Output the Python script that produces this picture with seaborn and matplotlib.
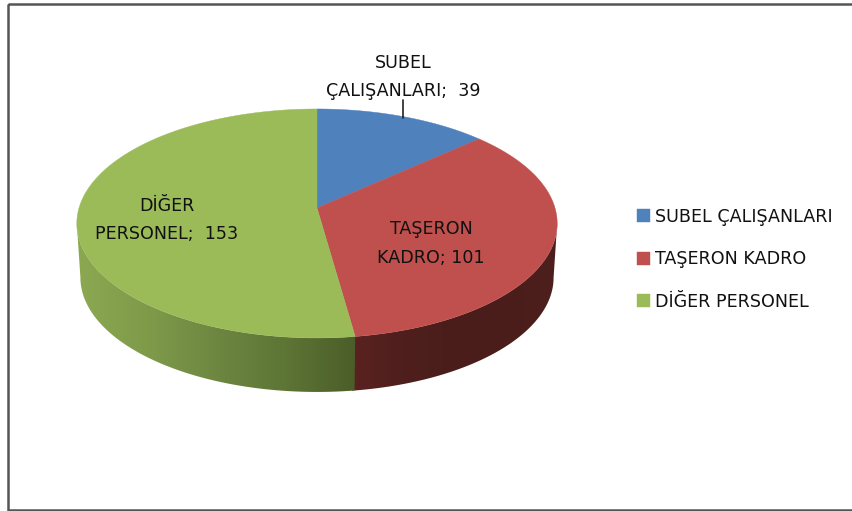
import numpy as np
import matplotlib
matplotlib.use("Agg")
import matplotlib.pyplot as plt
from matplotlib.colors import LinearSegmentedColormap
from matplotlib.patches import Polygon, Rectangle
import seaborn as sns

# chart data
categories = ["SUBEL ÇALIŞANLARI", "TAŞERON KADRO", "DİĞER PERSONEL"]
values = [39, 101, 153]
data_labels = ["SUBEL\nÇALIŞANLARI;  39", "TAŞERON\nKADRO; 101", "DİĞER\nPERSONEL;  153"]
colors = ["#4f81bd", "#c0504d", "#9bbb59"]

# look of the tilted pie, in pixels
CX, CY = 317, 208
RX, RY = 238, 112.4
TILT = 0.135
DEPTH = 54
BASE_SHRINK = 0.985
label_pos = [(403, 77), (431, 243.5), (167, 220)]
green_wall = ["#8ba851", "#7f9b4a", "#6d8741", "#5d7535", "#4b5d29"]
red_wall = ["#5a2220", "#4e1f1d", "#4a1d1b", "#4a1d1b", "#4d1f1d"]

sns.set_theme(style="white")
plt.rcParams["font.family"] = ["DejaVu Sans"]


def project(theta, depth=0.0):
    # theta runs clockwise from twelve o'clock
    u, v = np.sin(theta), np.cos(theta)
    w = 1 + TILT * v
    scale = 1 - (1 - BASE_SHRINK) * depth / DEPTH
    return CX + RX * scale * u / w, CY - RY * v / w + depth


def draw_wall(ax, t0, t1, stops, zorder):
    # horizontal gradient clipped to the wall shape, so no seams between strips
    ts = np.linspace(t0, t1, 300)
    xt, yt = project(ts)
    xb, yb = project(ts, DEPTH)
    shape = Polygon(np.c_[np.r_[xt, xb[::-1]], np.r_[yt, yb[::-1]]], closed=True,
                    fc="none", ec="none", transform=ax.transData)
    ax.add_patch(shape)
    x0, x1 = min(xt.min(), xb.min()), max(xt.max(), xb.max())
    y0, y1 = min(yt.min(), yb.min()), max(yt.max(), yb.max())
    cmap = LinearSegmentedColormap.from_list("wall", sns.blend_palette(stops, 64))
    im = ax.imshow(np.linspace(0, 1, 256)[None, :], cmap=cmap, aspect="auto",
                   extent=(x0, x1, y1, y0), zorder=zorder, interpolation="bilinear")
    im.set_clip_path(shape)


edges = 2 * np.pi * np.concatenate([[0], np.cumsum(values)]) / np.sum(values)

fig = plt.figure(figsize=(8.53, 5.11), dpi=100)
ax = fig.add_axes([0, 0, 1, 1])
ax.axis("off")

ax.add_patch(Rectangle((8.5, 4), 870, 506.5, fill=False, ec="#555555", lw=1.8))

# side wall, only the part facing the viewer, from silhouette to silhouette
# the red part runs a little under the green one to hide the seam
draw_wall(ax, np.pi / 2 + TILT, edges[2] + 0.01, red_wall, 2)
draw_wall(ax, edges[2], 3 * np.pi / 2 - TILT, green_wall, 2.1)

# top face
for i, cat in enumerate(categories):
    ts = np.linspace(edges[i], edges[i + 1], 200)
    xs, ys = project(ts)
    ax.fill(np.r_[CX, xs], np.r_[CY, ys], color=colors[i], lw=0.3, zorder=3, label=cat)

ax.plot([403, 403], [100, 118], color="#222222", lw=1.2, zorder=4)

for txt, (x, y) in zip(data_labels, label_pos):
    ax.text(x, y, txt, ha="center", va="center", fontsize=12.6, color="#111111",
            linespacing=1.75, zorder=5)

ax.legend(loc="upper left", bbox_to_anchor=(635 / 853, 1 - 206 / 511), frameon=False,
          fontsize=12.6, handlelength=0.78, handleheight=0.78, handletextpad=0.25,
          labelspacing=1.4, borderpad=0.1, borderaxespad=0, labelcolor="#111111")

ax.set_xlim(0, 853)
ax.set_ylim(511, 0)

fig.savefig("out.png", dpi=100)
